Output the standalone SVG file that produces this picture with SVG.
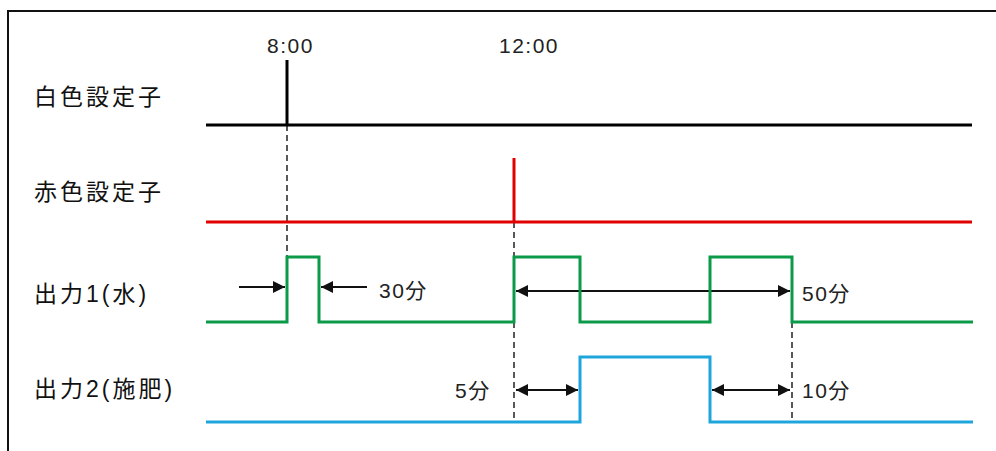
<svg xmlns="http://www.w3.org/2000/svg" width="996" height="451" viewBox="0 0 996 451">
<defs>
<style>
.lbl{font-family:"Liberation Sans","Noto Sans CJK JP",sans-serif;font-size:23px;fill:#111;letter-spacing:3px}
.t{font-family:"Liberation Sans","Noto Sans CJK JP",sans-serif;font-size:21px;fill:#222;letter-spacing:1.5px}
.dash{stroke:#222;stroke-width:1.5;stroke-dasharray:6,4;fill:none}
.arr{stroke:#111;stroke-width:2;fill:none}
</style>
<marker id="ah" viewBox="0 0 10 10" refX="10" refY="5" markerWidth="15" markerHeight="12" markerUnits="userSpaceOnUse" orient="auto-start-reverse">
<path d="M0,0 L10,5 L0,10 z" fill="#111"/>
</marker>
</defs>
<rect width="996" height="451" fill="#fff"/>
<path d="M8,451 V11 H996" stroke="#111" stroke-width="2" fill="none"/>
<g id="labels">
<text class="lbl" x="34" y="105">白色設定子</text>
<text class="lbl" x="34" y="200">赤色設定子</text>
<text class="lbl" x="34" y="302">出力1(水)</text>
<text class="lbl" x="34" y="397">出力2(施肥)</text>
<text class="t" x="267" y="53">8:00</text>
<text class="t" x="499" y="53">12:00</text>
</g>
<g id="connectors">
<path class="dash" d="M287,125 V257"/>
<path class="dash" d="M514,222 V422"/>
<path class="dash" d="M792,322 V422"/>
<path class="arr" d="M239,287 H285" marker-end="url(#ah)"/>
<path class="arr" d="M367,287 H321" marker-end="url(#ah)"/>
<path class="arr" d="M516,291 H790" marker-start="url(#ah)" marker-end="url(#ah)"/>
<path class="arr" d="M516,390 H578" marker-start="url(#ah)" marker-end="url(#ah)"/>
<path class="arr" d="M712,390 H790" marker-start="url(#ah)" marker-end="url(#ah)"/>
</g>
<g id="white">
<path d="M206,125 H972 M287,60 V125" stroke="#000" stroke-width="3" fill="none"/>
</g>
<g id="red">
<path d="M206,222 H972 M514,158 V222" stroke="#e00000" stroke-width="3" fill="none"/>
</g>
<g id="out1">
<path d="M206,322 H287 V257 H319 V322 H514 V257 H580 V322 H710 V257 H792 V322 H973" stroke="#0a9a48" stroke-width="3" fill="none"/>
</g>
<g id="out2">
<path d="M206,422 H580 V357 H710 V422 H973" stroke="#1ea6dc" stroke-width="3" fill="none"/>
</g>
<g id="annotations">
<text class="t" x="379" y="298">30分</text>
<text class="t" x="802" y="301">50分</text>
<text class="t" x="455" y="398">5分</text>
<text class="t" x="802" y="398">10分</text>
</g>
</svg>
